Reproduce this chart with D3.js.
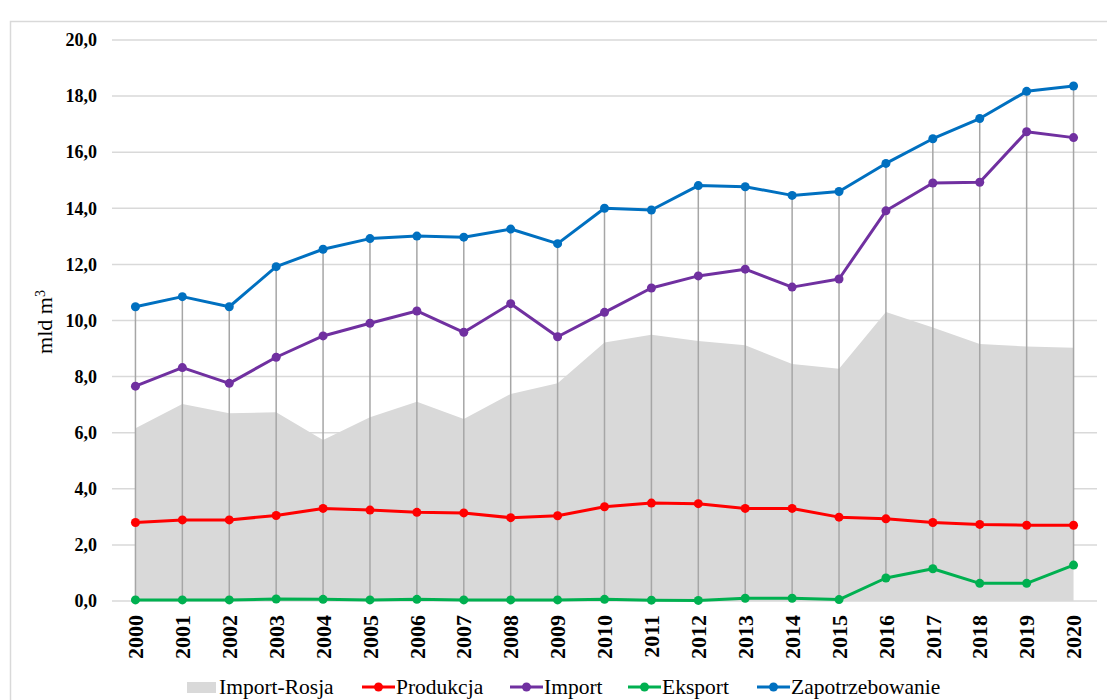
<!DOCTYPE html>
<html>
<head>
<meta charset="utf-8">
<script src="https://cdn.jsdelivr.net/npm/d3@7"></script>
<style>
  body { margin: 0; background: #fff; }
  svg { display: block; }
  svg text { font-family: 'Liberation Serif', 'Times New Roman', serif; fill: #000; }
</style>
</head>
<body>
<svg id="chart" width="1107" height="700"></svg>
<script>
// data (mld m3)
const years = ["2000","2001","2002","2003","2004","2005","2006","2007","2008","2009","2010",
  "2011","2012","2013","2014","2015","2016","2017","2018","2019","2020"];
const importRosja = [6.16, 7.02, 6.69, 6.73, 5.74, 6.55, 7.10, 6.49, 7.38, 7.76, 9.22,
  9.49, 9.27, 9.12, 8.45, 8.28, 10.30, 9.75, 9.16, 9.07, 9.03];
const produkcja = [2.80, 2.89, 2.89, 3.05, 3.30, 3.24, 3.16, 3.14, 2.97, 3.04, 3.36,
  3.49, 3.47, 3.30, 3.30, 2.99, 2.93, 2.80, 2.73, 2.70, 2.70];
const importTotal = [7.66, 8.32, 7.76, 8.69, 9.45, 9.90, 10.34, 9.58, 10.60, 9.42, 10.29,
  11.16, 11.59, 11.83, 11.19, 11.48, 13.91, 14.90, 14.93, 16.73, 16.52];
const eksport = [0.04, 0.04, 0.04, 0.07, 0.06, 0.04, 0.06, 0.04, 0.04, 0.04, 0.06,
  0.03, 0.02, 0.10, 0.10, 0.05, 0.82, 1.15, 0.63, 0.63, 1.28];
const zapotrzebowanie = [10.49, 10.85, 10.49, 11.92, 12.54, 12.92, 13.01, 12.97, 13.26, 12.74, 14.00,
  13.94, 14.81, 14.77, 14.46, 14.60, 15.60, 16.48, 17.20, 18.17, 18.36];
const yTicks = [0, 2, 4, 6, 8, 10, 12, 14, 16, 18, 20];

const lineSeries = [
  { name: "Produkcja", values: produkcja, color: "#ff0000" },
  { name: "Import", values: importTotal, color: "#7030a0" },
  { name: "Eksport", values: eksport, color: "#00b050" },
  { name: "Zapotrzebowanie", values: zapotrzebowanie, color: "#0070c0" }
];

const FONT = "'Liberation Serif', 'Times New Roman', serif";
const svg = d3.select("#chart");
const margin = { left: 112, right: 10, top: 40, bottom: 99 };
const plotW = 1097 - margin.left;
const plotH = 601 - margin.top;

// outer chart frame
svg.append("rect")
  .attr("x", 10.5).attr("y", 21.5)
  .attr("width", 1120).attr("height", 720)
  .attr("fill", "none").attr("stroke", "#d9d9d9").attr("stroke-width", 1.5);

const chart = svg.append("g").attr("transform", `translate(${margin.left},${margin.top})`);

const xScale = d3.scaleBand().domain(years).range([0, plotW]);
const xPos = d => xScale(d) + xScale.bandwidth() / 2;
const yScale = d3.scaleLinear().domain([0, 20]).range([plotH, 0]);

// gridlines
chart.append("g")
  .selectAll("line")
  .data(yTicks)
  .join("line")
    .attr("x1", 0).attr("x2", plotW)
    .attr("y1", d => yScale(d)).attr("y2", d => yScale(d))
    .attr("stroke", "#d9d9d9").attr("stroke-width", 1.5);

// Import-Rosja area
const area = d3.area()
  .x((d, i) => xPos(years[i]))
  .y0(yScale(0))
  .y1(d => yScale(d));
chart.append("path")
  .datum(importRosja)
  .attr("d", area)
  .attr("fill", "#d9d9d9");

// high-low lines
chart.append("g")
  .selectAll("line")
  .data(years)
  .join("line")
    .attr("x1", d => xPos(d)).attr("x2", d => xPos(d))
    .attr("y1", (d, i) => yScale(d3.max(lineSeries, s => s.values[i])))
    .attr("y2", (d, i) => yScale(d3.min(lineSeries, s => s.values[i])))
    .attr("stroke", "#a6a6a6").attr("stroke-width", 1.5);

// lines and markers
const line = d3.line()
  .x((d, i) => xPos(years[i]))
  .y(d => yScale(d));

const seriesG = chart.selectAll(".series")
  .data(lineSeries)
  .join("g")
    .attr("class", "series");

seriesG.append("path")
  .attr("d", d => line(d.values))
  .attr("fill", "none")
  .attr("stroke", d => d.color)
  .attr("stroke-width", 3)
  .attr("stroke-linejoin", "round");

seriesG.selectAll("circle")
  .data(d => d.values.map(v => ({ v, color: d.color })))
  .join("circle")
    .attr("cx", (d, i) => xPos(years[i]))
    .attr("cy", d => yScale(d.v))
    .attr("r", 4.5)
    .attr("fill", d => d.color);

// y axis labels
const yAxis = d3.axisLeft(yScale)
  .tickValues(yTicks)
  .tickSize(0)
  .tickPadding(15)
  .tickFormat(d => d3.format(".1f")(d).replace(".", ","));
chart.append("g")
  .call(yAxis)
  .attr("font-family", null)
  .call(g => g.select(".domain").remove())
  .selectAll("text")
    .style("font-family", FONT)
    .style("font-size", "18px")
    .style("font-weight", "bold");

// x axis labels
const xAxis = d3.axisBottom(xScale).tickSize(0).tickPadding(0);
chart.append("g")
  .attr("transform", `translate(0,${plotH})`)
  .call(xAxis)
  .attr("font-family", null)
  .call(g => g.select(".domain").remove())
  .selectAll("text")
    .style("font-family", FONT)
    .style("font-size", "22px")
    .style("font-weight", "bold")
    .attr("text-anchor", "end")
    .attr("dy", "0.35em")
    .attr("transform", "translate(0,14) rotate(-90)");

// y title
svg.append("text")
  .attr("transform", "translate(52,322) rotate(-90)")
  .attr("text-anchor", "middle")
  .style("font-family", FONT)
  .style("font-size", "22px")
  .html('mld m<tspan baseline-shift="super" font-size="14">3</tspan>');

// legend
const legendY = 687;
const legend = svg.append("g");
legend.append("rect")
  .attr("x", 187).attr("y", legendY - 5).attr("width", 29).attr("height", 11)
  .attr("fill", "#d9d9d9");
legend.append("text")
  .attr("x", 219).attr("y", legendY).attr("dy", "0.33em")
  .style("font-family", FONT).style("font-size", "21.5px")
  .text("Import-Rosja");

const legendX = [362, 510, 628, 757];
lineSeries.forEach((s, i) => {
  const g = legend.append("g").attr("transform", `translate(${legendX[i]},${legendY})`);
  g.append("line").attr("x1", 0).attr("x2", 33).attr("stroke", s.color).attr("stroke-width", 3);
  g.append("circle").attr("cx", 16.5).attr("r", 4.5).attr("fill", s.color);
  g.append("text").attr("x", 34).attr("dy", "0.33em")
    .style("font-family", FONT).style("font-size", "21.5px")
    .text(s.name);
});
</script>
</body>
</html>
